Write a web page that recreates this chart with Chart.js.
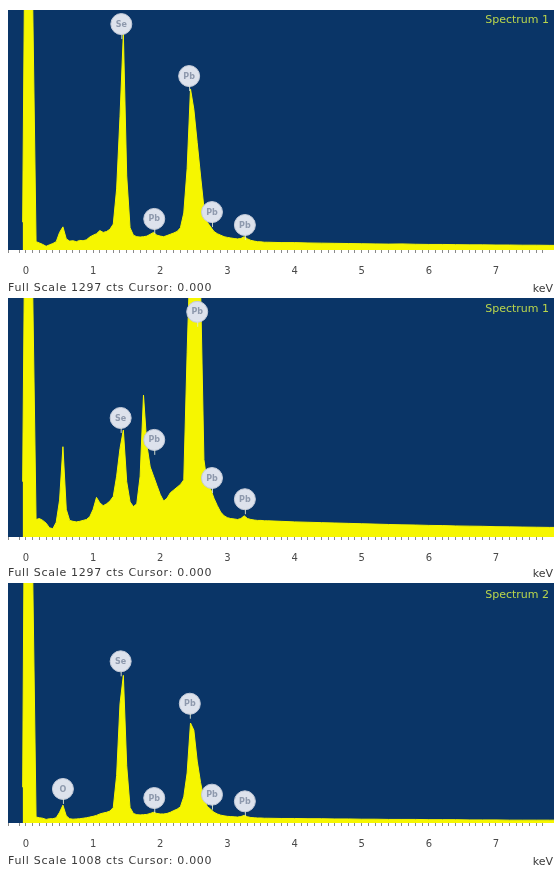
<!DOCTYPE html>
<html><head><meta charset="utf-8">
<script src="https://cdn.jsdelivr.net/npm/chart.js@4.4.1/dist/chart.umd.min.js"></script>
<style>
body{margin:0;background:#fff;width:554px;height:870px;position:relative;overflow:hidden;font-family:"DejaVu Sans",Verdana,sans-serif;}
.p{position:absolute;left:0;width:554px;}
.t{position:absolute;font-size:11px;line-height:12px;color:#3a3a3a;white-space:nowrap;}
.f{letter-spacing:0.7px;}
.s{position:absolute;font-size:11px;line-height:12px;color:#b9d54c;white-space:nowrap;}
</style></head><body>
<div class="p" style="top:0;height:298px"><canvas id="c1" width="554" height="298"></canvas></div>
<div class="p" style="top:298px;height:285px"><canvas id="c2" width="554" height="285"></canvas></div>
<div class="p" style="top:583px;height:287px"><canvas id="c3" width="554" height="287"></canvas></div>
<div id="ov"></div>
<script>
// ---- data (keV energies, counts per panel) ----
const energy = [-0.05,
 0.00,0.05,0.10,0.15,0.20,0.25,0.30,0.35,0.40,0.45,
 0.50,0.55,0.60,0.65,0.70,0.75,0.80,0.85,0.90,0.95,
 1.00,1.05,1.10,1.15,1.20,1.25,1.30,1.35,1.40,1.45,
 1.50,1.55,1.60,1.65,1.70,1.75,1.80,1.85,1.90,1.95,
 2.00,2.05,2.10,2.15,2.20,2.25,2.30,2.35,2.40,2.45,
 2.50,2.55,2.60,2.65,2.70,2.75,2.80,2.85,2.90,2.95,
 3.00,3.05,3.10,3.15,3.20,3.25,3.30,3.35,3.40,3.45,
 3.50,3.55,3.60,
 3.8,4.0,4.2,4.4,4.6,4.8,5.0,5.2,5.4,5.6,5.8,6.0,6.2,6.4,6.6,6.8,7.0,7.2,7.4,7.6,7.8,7.9];

const counts1 = [150,
 2500,2500,1330,45,38,30,20,28,35,45,
 95,125,60,48,50,45,52,50,55,70,
 80,88,105,95,100,112,140,330,720,1170,
 400,120,80,72,70,72,75,85,95,80,
 75,72,78,85,92,100,120,200,440,870,
 760,580,400,230,150,125,100,88,80,72,
 68,65,62,60,62,72,60,52,48,45,
 44,42,42,
 40,40,38,37,36,35,34,33,32,33,31,30,30,29,28,28,27,27,26,26,25,25];

const counts2 = [300,
 2500,2500,1330,95,100,90,75,50,45,80,
 200,490,150,90,85,82,85,90,95,110,
 150,215,185,170,180,195,220,330,480,580,
 300,190,165,180,330,770,500,380,330,280,
 230,195,210,240,255,270,285,310,1000,1600,
 1600,1600,1350,420,290,260,210,170,135,115,
 105,100,98,95,100,115,100,95,92,90,
 90,88,88,
 85,82,80,78,76,74,72,70,68,66,65,63,62,60,59,58,56,55,54,53,52,52];

const counts3 = [150,
 2500,2500,1040,25,22,20,15,18,18,22,
 45,75,30,18,16,17,18,20,22,25,
 28,32,38,42,45,50,65,200,500,620,
 240,65,40,35,34,35,36,40,45,40,
 38,38,40,45,52,58,68,110,210,420,
 390,260,170,100,70,58,45,38,33,30,
 28,27,26,25,27,32,26,23,22,21,
 21,20,20,
 19,19,18,18,17,17,16,16,15,15,15,14,14,14,13,13,13,12,12,12,12,12];

const fullScale = [1297, 1297, 1008];
const spectrumNames = ["Spectrum 1", "Spectrum 1", "Spectrum 2"];

const markE1 = [1.42, 1.91, 2.43, 2.77, 3.26];
const markY1 = [1221, 168, 940, 205, 135];
const markL1 = ["Se", "Pb", "Pb", "Pb", "Pb"];
const markE2 = [1.41, 1.91, 2.55, 2.77, 3.26];
const markY2 = [646, 527, 1222, 320, 205];
const markL2 = ["Se", "Pb", "Pb", "Pb", "Pb"];
const markE3 = [0.55, 1.41, 1.91, 2.44, 2.77, 3.26];
const markY3 = [143, 679, 105, 501, 119, 91];
const markL3 = ["O", "Se", "Pb", "Pb", "Pb", "Pb"];

const tickStep = 0.1;
const xMin = -0.268, xMax = 7.864;

// ---- styling ----
const BLUE = "#0a3567";
const YELLOW = "#f6f600";
Chart.defaults.font.family = '"DejaVu Sans", Verdana, sans-serif';

const bgPlugin = {
  id: "bg",
  beforeDatasetsDraw(chart) {
    const {ctx, chartArea: a} = chart;
    ctx.save();
    ctx.fillStyle = BLUE;
    ctx.fillRect(a.left, a.top, a.right - a.left, a.bottom - a.top);
    ctx.restore();
  }
};
const markPlugin = {
  id: "marks",
  afterDatasetsDraw(chart) {
    const ds = chart.data.datasets[0];
    const meta = chart.getDatasetMeta(0);
    const ctx = chart.ctx;
    ctx.save();
    meta.data.forEach((pt, i) => {
      ctx.fillStyle = "#8e99ad";
      ctx.font = "bold 8px 'DejaVu Sans', Verdana, sans-serif";
      ctx.textAlign = "center";
      ctx.textBaseline = "middle";
      ctx.fillText(ds.markLabels[i], pt.x, pt.y + 0.5);
      ctx.strokeStyle = "rgba(225,232,210,0.9)";
      ctx.lineWidth = 1;
      ctx.beginPath();
      ctx.moveTo(pt.x + 0.5, pt.y + 10);
      ctx.lineTo(pt.x + 0.5, pt.y + 15);
      ctx.stroke();
    });
    ctx.restore();
  }
};

function makeChart(id, counts, me, my, ml, yMax, padTop, axisH) {
  const spec = energy.map((e, i) => ({x: e, y: counts[i]}));
  const marks = me.map((e, i) => ({x: e, y: my[i]}));
  return new Chart(document.getElementById(id), {
    type: "line",
    data: {
      datasets: [
        {type: "scatter", data: marks, markLabels: ml, pointRadius: 10.5,
         pointBackgroundColor: "#dde2ec", pointBorderColor: "#c3cad8", pointBorderWidth: 1,
         pointHoverRadius: 10.5, order: 0},
        {type: "line", data: spec, borderColor: YELLOW, backgroundColor: YELLOW,
         borderWidth: 1, fill: "origin", pointRadius: 0, tension: 0, order: 1}
      ]
    },
    options: {
      responsive: false, animation: false, events: [],
      layout: {padding: {left: 8, top: padTop, right: 0, bottom: 0}, autoPadding: false},
      plugins: {legend: {display: false}, tooltip: {enabled: false}},
      scales: {
        x: {
          type: "linear", min: xMin, max: xMax,
          border: {display: false},
          grid: {drawOnChartArea: false, drawTicks: true, tickLength: 3, color: "#8a8a8a"},
          ticks: {
            stepSize: tickStep, autoSkip: false, maxRotation: 0, padding: 12,
            color: "#4a4a4a", font: {size: 10},
            callback: (v) => Math.abs(v - Math.round(v)) < 1e-6 ? String(Math.round(v)) : ""
          },
          afterFit: (s) => { s.height = axisH; s.paddingLeft = 0; s.paddingRight = 0; }
        },
        y: {display: false, min: 0, max: yMax}
      }
    },
    plugins: [bgPlugin, markPlugin]
  });
}

makeChart("c1", counts1, markE1, markY1, markL1, fullScale[0], 10, 48);
makeChart("c2", counts2, markE2, markY2, markL2, fullScale[1], 0, 46);
makeChart("c3", counts3, markE3, markY3, markL3, fullScale[2], 0, 47);

// overlay texts
const ov = document.getElementById("ov");
const fsTop = [282, 567, 855];
const spTop = [14, 303, 589];
fullScale.forEach((fs, i) => {
  const a = document.createElement("div");
  a.className = "t f"; a.style.left = "8px"; a.style.top = fsTop[i] + "px";
  a.textContent = "Full Scale " + fs + " cts Cursor: 0.000";
  ov.appendChild(a);
  const k = document.createElement("div");
  k.className = "t"; k.style.right = "1px"; k.style.top = (fsTop[i] + 1) + "px";
  k.textContent = "keV";
  ov.appendChild(k);
  const s = document.createElement("div");
  s.className = "s"; s.style.right = "5px"; s.style.top = spTop[i] + "px";
  s.textContent = spectrumNames[i];
  ov.appendChild(s);
});
</script>
</body></html>
